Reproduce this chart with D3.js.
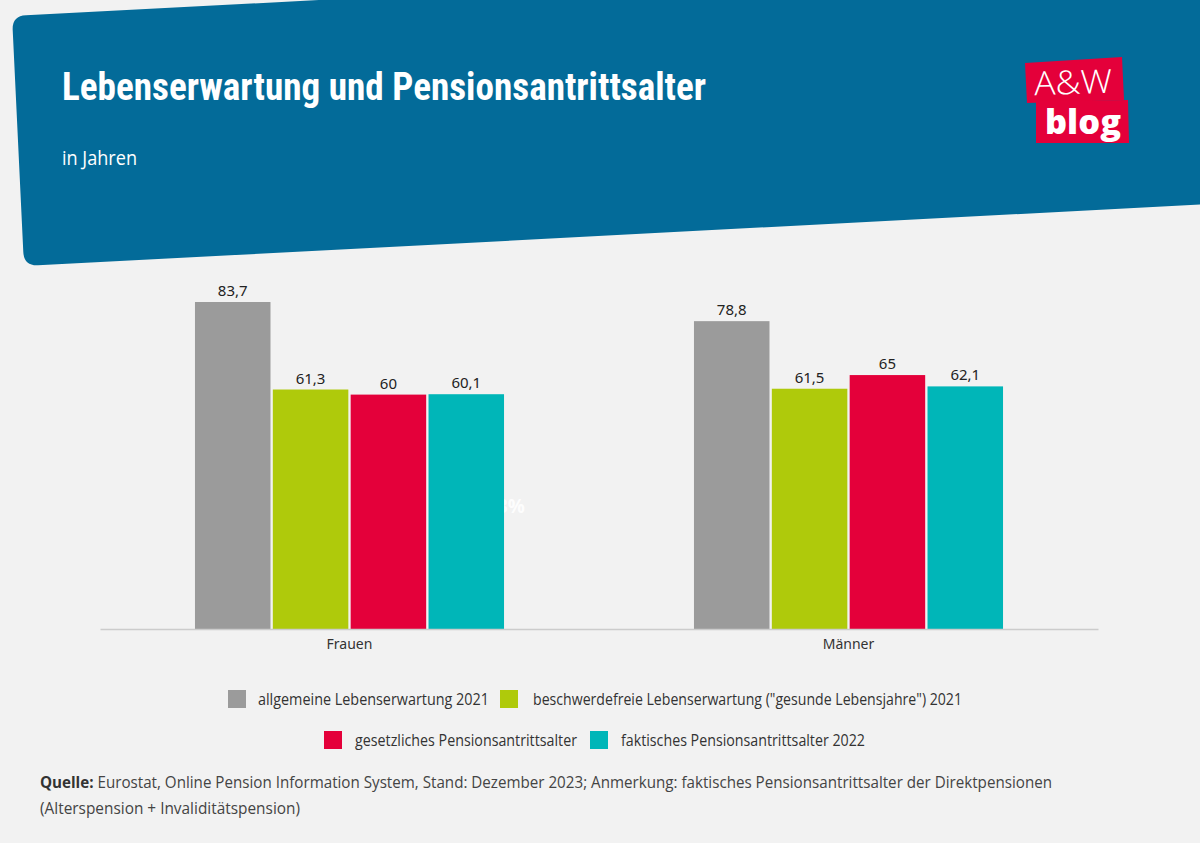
<!DOCTYPE html>
<html><head><meta charset="utf-8">
<script src="https://cdn.jsdelivr.net/npm/d3@7"></script>
<style>html,body{margin:0;padding:0;background:#f2f2f2;}svg{display:block;}</style>
</head><body>
<svg id="c" width="1200" height="843"></svg>
<script>
const categories = ["Frauen", "Männer"];
const seriesNames = [
  "allgemeine Lebenserwartung 2021",
  "beschwerdefreie Lebenserwartung (\"gesunde Lebensjahre\") 2021",
  "gesetzliches Pensionsantrittsalter",
  "faktisches Pensionsantrittsalter 2022"
];
const allgemeine = [83.7, 78.8];
const beschwerdefrei = [61.3, 61.5];
const gesetzlich = [60, 65];
const faktisch = [60.1, 62.1];
const seriesColors = ["#9b9b9b", "#afca0b", "#e4003a", "#00b6b8"];
const seriesValues = [allgemeine, beschwerdefrei, gesetzlich, faktisch];

const svg = d3.select("#c");
svg.append("rect").attr("width",1200).attr("height",843).attr("fill","#f2f2f2");

// header banner
svg.append("path")
  .attr("d","M12.7,30 Q12,16 26,15.3 L1218,-47 L1230,203 L38,265.3 Q24,266 23.3,252 Z")
  .attr("fill","#036b99");
svg.append("text").attr("x",62).attr("y",100)
  .attr("font-family","'Liberation Sans Narrow','Roboto Condensed','Liberation Sans',sans-serif")
  .attr("font-weight","bold").attr("font-size",38).attr("fill","#fff")
  .attr("textLength",644).attr("lengthAdjust","spacingAndGlyphs")
  .text("Lebenserwartung und Pensionsantrittsalter");
svg.append("text").attr("x",62).attr("y",165)
  .attr("font-family","'Open Sans',sans-serif").attr("font-size",20).attr("fill","#fff")
  .attr("textLength",75).attr("lengthAdjust","spacingAndGlyphs")
  .text("in Jahren");

// logo
const logo = svg.append("g");
logo.append("polygon").attr("points","1025,63 1122,57 1124,100 1027,103").attr("fill","#e4003a");
logo.append("polygon").attr("points","1036,101 1128,100 1129,143 1036,143").attr("fill","#e4003a");
logo.append("text").attr("x",1073).attr("y",94).attr("text-anchor","middle")
  .attr("font-family","'Open Sans',sans-serif").attr("font-weight",300).attr("font-size",33)
  .attr("fill","#fff").attr("textLength",78).attr("lengthAdjust","spacingAndGlyphs")
  .attr("transform","rotate(-2 1073 80)").text("A&W");
logo.append("text").attr("x",1083).attr("y",134).attr("text-anchor","middle")
  .attr("font-family","'Open Sans',sans-serif").attr("font-weight",800).attr("font-size",33)
  .attr("fill","#fff").attr("textLength",76).attr("lengthAdjust","spacingAndGlyphs")
  .text("blog");

// scales
const x0 = d3.scaleBand().domain(categories).range([100,1098]).padding(0);
const x1 = d3.scaleBand().domain(seriesNames).range([0,x0.bandwidth()]).paddingInner(0.03).paddingOuter(1.22);
const y = d3.scaleLinear().domain([0,90]).range([629,277.4]);

// stray artifact label
svg.append("text").attr("x",525).attr("y",513).attr("text-anchor","end")
  .attr("font-family","'Open Sans',sans-serif").attr("font-weight","bold").attr("font-size",19)
  .attr("fill","#ffffff").attr("opacity",0.9).text("13%");

const groups = svg.selectAll("g.grp").data(categories).join("g")
  .attr("class","grp").attr("transform",d=>`translate(${x0(d)},0)`);

seriesNames.forEach((s,si)=>{
  groups.append("rect")
    .attr("x",x1(s)).attr("width",x1.bandwidth())
    .attr("y",(d,i)=>y(seriesValues[si][i]))
    .attr("height",(d,i)=>y(0)-y(seriesValues[si][i]))
    .attr("fill",seriesColors[si]);
  groups.append("text")
    .attr("x",x1(s)+x1.bandwidth()/2)
    .attr("y",(d,i)=>y(seriesValues[si][i])-6)
    .attr("text-anchor","middle")
    .attr("font-family","'Noto Sans',sans-serif").attr("font-size",15).attr("fill","#222")
    .text((d,i)=>String(seriesValues[si][i]).replace(".",","));
});

// axis
const xAxis = d3.axisBottom(x0).tickSize(0).tickPadding(10);
const ax = svg.append("g").attr("transform","translate(0,629)").call(xAxis);
ax.select(".domain").attr("stroke","#cccccc").attr("stroke-width",1.5);
ax.selectAll("text").attr("font-family","'Noto Sans',sans-serif").attr("font-size",14).attr("fill","#333");

// legend
const legendItems = [
  {i:0, sx:228, sy:690, tx:258, tl:231},
  {i:1, sx:500, sy:690, tx:533, tl:429},
  {i:2, sx:324, sy:731, tx:355, tl:222},
  {i:3, sx:590, sy:731, tx:621, tl:244}
];
const lg = svg.append("g");
legendItems.forEach(it=>{
  lg.append("rect").attr("x",it.sx).attr("y",it.sy).attr("width",18).attr("height",18)
    .attr("fill",seriesColors[it.i]);
  lg.append("text").attr("x",it.tx).attr("y",it.sy+14.5)
    .attr("font-family","'Open Sans',sans-serif").attr("font-size",15.5).attr("fill","#333")
    .attr("textLength",it.tl).attr("lengthAdjust","spacingAndGlyphs")
    .text(seriesNames[it.i]);
});

// footer
const f1 = svg.append("text").attr("x",40).attr("y",788)
  .attr("font-family","'Open Sans',sans-serif").attr("font-size",15.5).attr("fill","#444")
  .attr("textLength",1012).attr("lengthAdjust","spacingAndGlyphs");
f1.append("tspan").attr("font-weight","bold").attr("fill","#333").text("Quelle:");
f1.append("tspan").text(" Eurostat, Online Pension Information System, Stand: Dezember 2023; Anmerkung: faktisches Pensionsantrittsalter der Direktpensionen");
svg.append("text").attr("x",40).attr("y",814)
  .attr("font-family","'Open Sans',sans-serif").attr("font-size",15.5).attr("fill","#444")
  .attr("textLength",260).attr("lengthAdjust","spacingAndGlyphs")
  .text("(Alterspension + Invaliditätspension)");
</script>
</body></html>
